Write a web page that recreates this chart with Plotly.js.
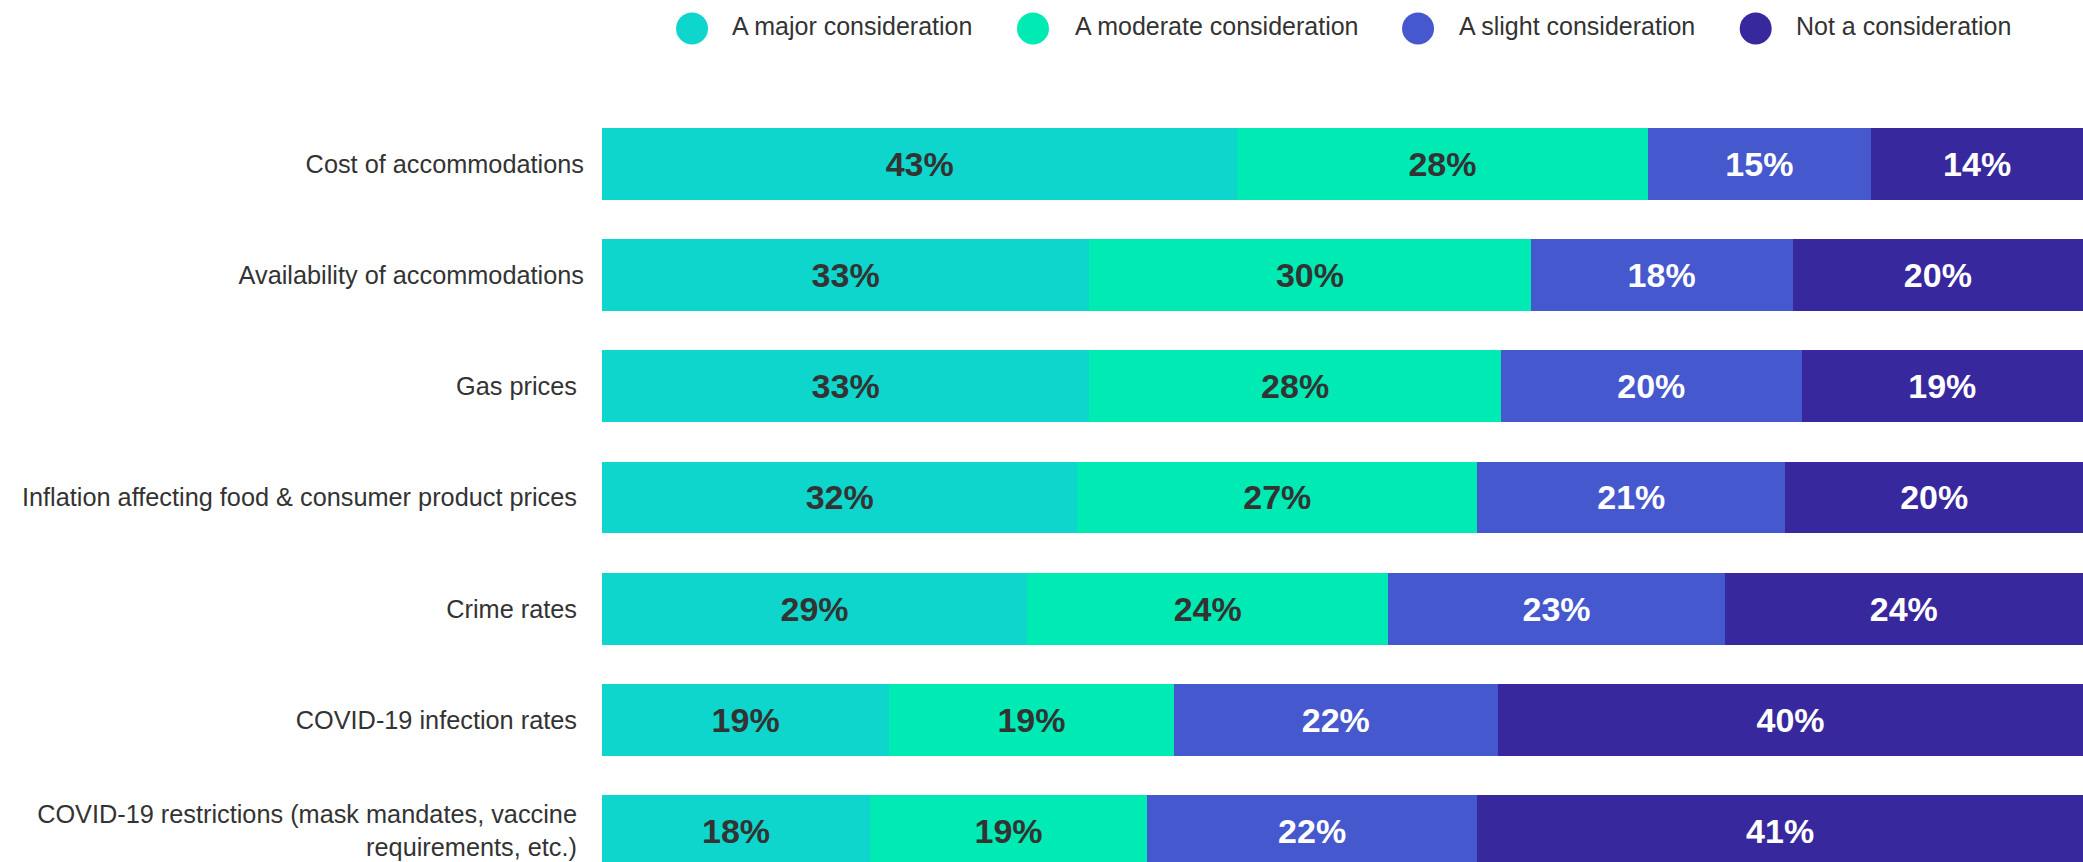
<!DOCTYPE html>
<html>
<head>
<meta charset="utf-8">
<script src="https://cdn.plot.ly/plotly-3.0.1.min.js"></script>
<style>html,body{margin:0;padding:0;background:#fff;}#chart{width:2083px;height:862px;}</style>
</head>
<body>
<div id="chart"></div>
<script>
const categories = [
  'Cost of accommodations',
  'Availability of accommodations',
  'Gas prices\u00a0',
  'Inflation affecting food & consumer product prices\u00a0',
  'Crime rates\u00a0',
  'COVID-19 infection rates\u00a0',
  'COVID-19 restrictions (mask mandates, vaccine\u00a0<br>requirements, etc.)\u00a0'
];
const seriesNames = ['A major consideration', 'A moderate consideration', 'A slight consideration', 'Not a consideration'];
const major    = [42.9, 32.9, 32.9, 32.1, 28.7, 19.4, 18.1];
const moderate = [27.7, 29.8, 27.8, 27.0, 24.4, 19.2, 18.7];
const slight   = [15.1, 17.7, 20.3, 20.8, 22.7, 21.9, 22.3];
const notCons  = [14.3, 19.6, 19.0, 20.1, 24.2, 39.5, 40.9];

const colors = ['#0ED6CC', '#00EAB4', '#4658CD', '#38289E'];
const textColors = ['#333333', '#333333', '#ffffff', '#ffffff'];
const FONT = 'Liberation Sans, Arial, Helvetica, sans-serif';

const seriesValues = [major, moderate, slight, notCons];
const traces = seriesValues.map((vals, i) => ({
  type: 'bar',
  orientation: 'h',
  name: seriesNames[i],
  y: categories,
  x: vals,
  width: 0.6475,
  marker: {color: colors[i], line: {width: 0}},
  texttemplate: '%{x:.0f}%',
  textposition: 'inside',
  insidetextanchor: 'middle',
  textangle: 0,
  constraintext: 'none',
  textfont: {family: FONT, size: 34, color: textColors[i], weight: 'bold'},
  hoverinfo: 'skip',
  showlegend: false
}));

// custom legend (circles + labels) in paper coordinates
const legendCircleX = [0.0608, 0.2910, 0.5510, 0.7790];
const legendTextX   = [0.0867, 0.3180, 0.5772, 0.8050];
const shapes = legendCircleX.map((x, i) => ({
  type: 'circle', xref: 'paper', yref: 'paper',
  xsizemode: 'pixel', ysizemode: 'pixel',
  xanchor: x, yanchor: 1.0393,
  x0: -16, x1: 16, y0: -16, y1: 16,
  fillcolor: colors[i], line: {width: 0}
}));
const annotations = legendTextX.map((x, i) => ({
  xref: 'paper', yref: 'paper', x: x, y: 1.0424,
  xanchor: 'left', yanchor: 'middle', showarrow: false,
  text: seriesNames[i],
  font: {family: FONT, size: 25, color: '#333333'}
}));

const layout = {
  width: 2083, height: 862,
  margin: {l: 602, r: 0, t: 60, b: 0, pad: 0},
  barmode: 'stack',
  paper_bgcolor: '#ffffff', plot_bgcolor: '#ffffff',
  showlegend: false,
  font: {family: FONT, color: '#333333'},
  xaxis: {range: [0, 100], visible: false, fixedrange: true},
  yaxis: {
    type: 'category', range: [6.279, -0.9355], autorange: false,
    showgrid: false, zeroline: false, showline: false, ticks: '',
    ticklabelstandoff: 17,
    tickfont: {family: FONT, size: 25.3, color: '#333333'},
    fixedrange: true
  },
  shapes: shapes,
  annotations: annotations
};

Plotly.newPlot('chart', traces, layout, {displayModeBar: false, staticPlot: true});
</script>
</body>
</html>
